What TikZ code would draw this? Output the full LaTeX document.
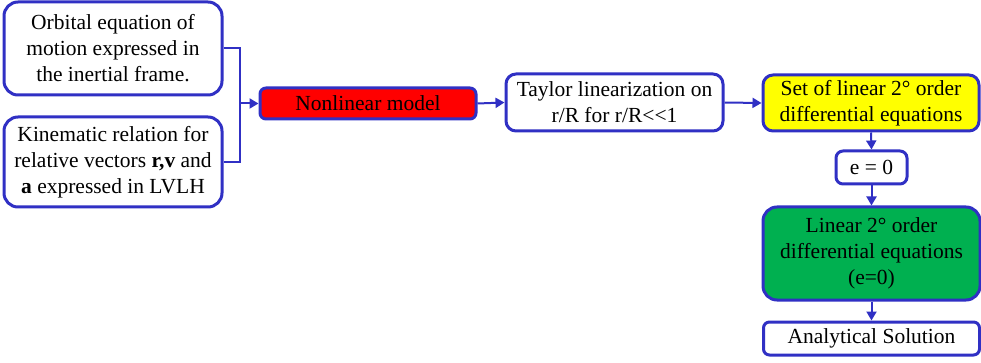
\documentclass[tikz,border=0pt]{standalone}
\usepackage{fontspec}
\setmainfont{Liberation Serif}
\usetikzlibrary{arrows.meta}
\definecolor{edgeblue}{RGB}{48,48,196}
\definecolor{boxred}{RGB}{255,0,0}
\definecolor{boxyellow}{RGB}{255,255,0}
\definecolor{boxgreen}{RGB}{0,176,80}
\begin{document}
\begin{tikzpicture}[x=1pt,y=-1pt,
  box/.style={draw=edgeblue, line width=3pt, rounded corners=14pt, fill=white,
    align=center, inner sep=0pt,
    font=\fontsize{21.5}{26}\selectfont},
  link/.style={draw=edgeblue, line width=2pt},
  arr/.style={link, -{Triangle[length=9pt,width=10pt]}}]
\useasboundingbox (0,0) rectangle (981,363);
% input boxes
\node[box, minimum width=218pt, minimum height=93pt] (orb) at (113,48.5)
  {Orbital equation of\\motion expressed in\\the inertial frame.};
\node[box, minimum width=218pt, minimum height=90pt] (kin) at (113,162)
  {Kinematic relation for\\relative vectors \textbf{r,v} and\\\textbf{a} expressed in LVLH};
% main chain
\node[box, fill=boxred, rounded corners=6pt, minimum width=216pt, minimum height=31pt] (nl) at (368,103.5)
  {Nonlinear model};
\node[box, rounded corners=10pt, minimum width=217pt, minimum height=57pt] (tay) at (614.5,102.5)
  {Taylor linearization on\\r/R for r/R<{}<1};
\node[box, fill=boxyellow, rounded corners=10pt, minimum width=216pt, minimum height=56pt] (set) at (871,103)
  {Set of linear 2° order\\differential equations};
\node[box, rounded corners=7pt, minimum width=71pt, minimum height=33pt] (e0) at (871.5,167.5)
  {e = 0};
\node[box, fill=boxgreen, rounded corners=14pt, minimum width=217pt, minimum height=93pt] (lin) at (871.5,253.5)
  {Linear 2° order\\differential equations\\(e=0)};
\node[box, rounded corners=6pt, minimum width=216pt, minimum height=33pt] (an) at (871.5,338.5)
  {Analytical Solution};
% connectors
\coordinate (join) at (240,103.5);
\draw[link] (orb.east) -| (join);
\draw[link] (kin.east) -| (join);
\draw[arr] (join) -- (nl.west);
\draw[arr] (nl.east) -- (tay.west);
\draw[arr] (tay.east) -- (set.west);
\draw[arr] (set.south) -- (e0.north);
\draw[arr] (e0.south) -- (lin.north);
\draw[arr] (lin.south) -- (an.north);
\end{tikzpicture}
\end{document}
